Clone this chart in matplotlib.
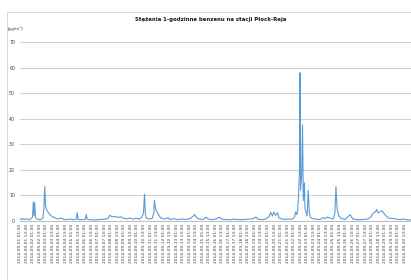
import matplotlib
matplotlib.use('Agg')
import matplotlib.pyplot as plt
from matplotlib.patches import Rectangle
import datetime as dt

# hours after 2014-09-01 01:00 and the 1-hour benzene concentration
hours = [0, 4, 7, 13, 18, 23, 24.5, 26, 27, 28.5, 31, 37, 42, 44, 45.5, 47, 49,
         51.5, 55, 59, 64, 70, 75, 79, 86, 92, 97, 104, 105, 107, 114, 120,
         122, 123, 129, 138, 147, 156, 162, 165.5, 169, 175, 180, 186, 191,
         197, 202, 208, 213, 219, 224, 227, 229, 230.5, 232, 237, 243, 246,
         247, 249.5, 252, 256, 259, 265, 270, 272, 276, 283, 290, 298, 305,
         313, 318, 321, 324, 329, 337, 342, 346, 353, 360, 367, 370, 377, 386,
         395, 405, 414, 423, 430, 434, 437, 445, 452, 458, 461, 464, 467, 470,
         474, 476, 482, 487, 493, 500, 505, 507, 509, 510.5, 512, 514, 515,
         516, 518, 519.5, 521, 523, 524, 526, 528, 530, 532, 534, 537, 544,
         552, 557, 561, 565, 570, 576, 579, 581, 583, 586, 591, 598, 607, 612,
         622, 631, 640, 645, 649, 653, 656, 658, 662, 666, 669, 673, 677, 684,
         691, 699, 704, 710, 719]
benzene = [0.5, 1.0, 0.6, 0.8, 0.5, 1.5, 7.5, 2.0, 7.2, 1.5, 0.8, 0.5, 1.0,
           5.0, 13.5, 6.0, 4.3, 3.5, 2.5, 1.8, 1.2, 0.8, 1.2, 0.7, 0.5, 0.8,
           0.5, 0.8, 3.3, 0.6, 0.5, 0.7, 2.6, 0.8, 0.5, 0.4, 0.6, 0.7, 1.0,
           2.3, 1.6, 1.8, 1.4, 1.6, 1.0, 0.8, 1.2, 0.7, 1.1, 0.8, 1.5, 3.0,
           10.5, 3.0, 1.2, 0.8, 1.0, 3.0, 8.0, 4.5, 3.5, 2.0, 1.2, 0.8, 1.0,
           1.3, 0.6, 0.9, 0.5, 0.8, 0.6, 1.0, 1.8, 2.6, 1.5, 0.8, 0.6, 1.5,
           0.8, 0.5, 0.8, 1.5, 0.8, 0.6, 0.5, 0.7, 0.5, 0.6, 0.8, 1.0, 1.6,
           0.8, 0.5, 0.8, 1.8, 3.4, 2.0, 3.5, 2.2, 3.2, 1.2, 0.8, 0.6, 0.8,
           0.7, 1.5, 3.6, 2.5, 4.0, 9.0, 20.0, 58.0, 12.0, 18.0, 37.6, 8.0,
           15.0, 5.0, 3.5, 2.0, 12.0, 3.5, 1.5, 1.0, 0.7, 0.6, 1.3, 1.0, 1.5,
           1.2, 0.8, 3.0, 13.5, 5.0, 2.0, 1.0, 0.6, 2.5, 0.8, 0.5, 0.6, 0.8,
           1.5, 3.0, 3.5, 4.5, 3.2, 3.6, 4.0, 3.0, 2.0, 1.2, 1.0, 0.8, 0.5,
           0.8, 0.5, 0.4]

start = dt.datetime(2014, 9, 1, 1, 0)
tick_hours = list(range(0, 720, 12))
tick_labels = [(start + dt.timedelta(hours=h)).strftime('%Y-%m-%d %H:%M')
               for h in tick_hours]
y_ticks = [0, 10, 20, 30, 40, 50, 60, 70]

W, H = 411, 280
fig = plt.figure(figsize=(W / 100, H / 100), dpi=100)
ax = fig.add_axes([20 / W, 59 / H, 391 / W, 179 / H])

ax.plot(hours, benzene, color='#5b9bd5', linewidth=0.8)
ax.set_xlim(0, 719)
ax.set_ylim(0, 70)

ax.set_yticks(y_ticks)
ax.set_yticklabels([str(v) for v in y_ticks], fontsize=3.4, color='#404040')
ax.set_xticks(tick_hours)
ax.set_xticklabels(tick_labels, rotation=90, fontsize=3.15, color='#404040')
ax.tick_params(axis='both', length=0)
ax.tick_params(axis='x', pad=2)
ax.tick_params(axis='y', pad=3.5)

ax.grid(axis='y', color='#d0d0d0', linewidth=0.75)
ax.set_axisbelow(True)
for s in ['top', 'right', 'left']:
    ax.spines[s].set_visible(False)
ax.spines['bottom'].set_color('#bfbfbf')
ax.spines['bottom'].set_linewidth(0.75)

fig.text(211 / W, 1 - 20 / H, 'Stężenia 1-godzinne benzenu na stacji Płock-Reja',
         ha='center', va='center', fontsize=3.9, fontweight='bold', color='#1a1a1a')
fig.text(8 / W, 1 - 29 / H, '[µg/m³]', ha='left', va='center', fontsize=3.0,
         color='#404040')

# chart area border
fig.patches.append(Rectangle((7 / W, -0.1), 1.2, 1.1 - 12 / H,
                             transform=fig.transFigure, fill=False,
                             edgecolor='#d9d9d9', linewidth=0.75))

fig.savefig('out.png', dpi=100)
